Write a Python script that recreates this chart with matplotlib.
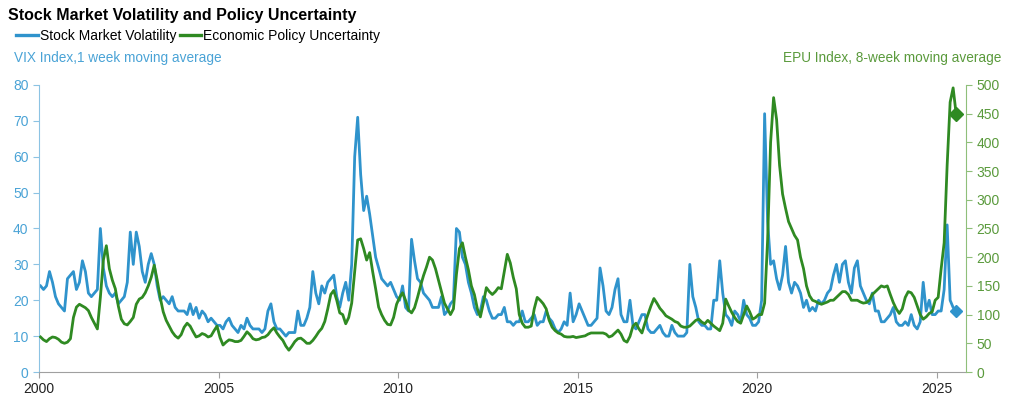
import numpy as np
import matplotlib
matplotlib.use("Agg")
import matplotlib.pyplot as plt
from matplotlib.lines import Line2D

plt.rcParams['font.family'] = ['Liberation Sans', 'DejaVu Sans']

# monthly readings, Jan 2000 .. Jul 2025
vix = [
    24, 23, 24, 28, 25, 21, 19, 18, 17, 26, 27, 28,   # 2000
    23, 25, 31, 28, 22, 21, 22, 23, 40, 29, 24, 22,   # 2001
    21, 22, 19, 20, 21, 25, 39, 30, 39, 35, 28, 25,   # 2002
    30, 33, 30, 24, 20, 21, 20, 19, 21, 18, 17, 17,   # 2003
    17, 16, 19, 16, 18, 15, 17, 16, 14, 15, 14, 13,   # 2004
    13, 12, 14, 15, 13, 12, 11, 13, 12, 15, 13, 12,   # 2005
    12, 12, 11, 12, 17, 19, 14, 12, 12, 11, 10, 11,   # 2006
    11, 11, 17, 13, 13, 15, 18, 28, 22, 19, 24, 22,   # 2007
    25, 26, 27, 21, 18, 22, 25, 20, 30, 60, 71, 55,   # 2008
    45, 49, 44, 38, 32, 29, 26, 25, 24, 25, 23, 21,   # 2009
    20, 24, 18, 17, 37, 31, 26, 25, 22, 21, 20, 18,   # 2010
    18, 18, 21, 16, 17, 19, 20, 40, 39, 32, 30, 25,   # 2011
    22, 18, 16, 17, 21, 20, 17, 15, 15, 16, 16, 18,   # 2012
    14, 14, 13, 14, 14, 17, 14, 14, 15, 16, 13, 14,   # 2013
    14, 17, 15, 14, 12, 11, 12, 14, 13, 22, 14, 16,   # 2014
    19, 17, 15, 13, 13, 14, 15, 29, 24, 17, 16, 18,   # 2015
    23, 26, 16, 14, 14, 20, 13, 12, 14, 16, 16, 12,   # 2016
    11, 11, 12, 13, 11, 10, 10, 13, 11, 10, 10, 10,   # 2017
    11, 30, 21, 18, 14, 13, 13, 12, 12, 20, 20, 31,   # 2018
    22, 16, 15, 13, 17, 16, 14, 20, 16, 15, 13, 13,   # 2019
    14, 20, 72, 42, 30, 31, 26, 23, 27, 35, 25, 22,   # 2020
    25, 24, 22, 18, 20, 17, 18, 17, 20, 19, 20, 22,   # 2021
    23, 27, 30, 25, 30, 31, 25, 22, 29, 31, 24, 22,   # 2022
    20, 19, 22, 17, 17, 14, 14, 15, 16, 18, 14, 13,   # 2023
    13, 14, 13, 16, 13, 12, 14, 25, 17, 20, 16, 16,   # 2024
    17, 17, 23, 41, 20, 18, 17,                       # 2025
]

epu = [
    61, 56, 53, 58, 61, 60, 57, 52, 50, 52, 58, 95,             # 2000
    113, 118, 115, 112, 107, 95, 85, 75, 130, 195, 220, 180,    # 2001
    160, 145, 115, 92, 84, 82, 88, 95, 118, 127, 130, 138,      # 2002
    150, 165, 186, 160, 130, 105, 90, 80, 70, 63, 59, 65,       # 2003
    78, 85, 80, 70, 61, 63, 67, 65, 61, 63, 72, 80,             # 2004
    60, 47, 52, 56, 55, 53, 53, 55, 62, 70, 65, 58,             # 2005
    56, 57, 60, 61, 65, 72, 77, 68, 61, 55, 45, 38,             # 2006
    45, 53, 58, 59, 55, 50, 50, 55, 62, 70, 76, 88,             # 2007
    110, 135, 142, 125, 103, 100, 84, 95, 120, 175, 230, 232,   # 2008
    215, 195, 208, 175, 145, 113, 100, 90, 83, 82, 95, 118,     # 2009
    130, 138, 125, 108, 103, 112, 130, 150, 168, 183, 200, 195, # 2010
    180, 160, 140, 120, 110, 100, 110, 170, 215, 225, 200, 178, # 2011
    150, 135, 110, 96, 120, 147, 140, 135, 140, 147, 145, 175,  # 2012
    205, 190, 165, 145, 100, 85, 78, 78, 80, 110, 130, 125,     # 2013
    119, 110, 90, 78, 72, 68, 66, 62, 61, 61, 62, 60,           # 2014
    61, 62, 63, 66, 68, 68, 68, 68, 68, 66, 61, 63,             # 2015
    68, 73, 66, 55, 52, 62, 80, 85, 75, 68, 85, 100,            # 2016
    115, 128, 120, 111, 105, 98, 95, 92, 88, 86, 80, 78,        # 2017
    78, 80, 85, 90, 92, 87, 84, 90, 85, 80, 76, 72,             # 2018
    85, 127, 115, 104, 95, 88, 85, 100, 115, 105, 92, 95,       # 2019
    100, 100, 120, 230, 400, 478, 440, 360, 310, 285, 262, 250, # 2020
    238, 230, 200, 180, 150, 133, 125, 123, 120, 118, 120, 122, # 2021
    125, 125, 130, 135, 140, 140, 135, 125, 125, 125, 122, 120, # 2022
    121, 125, 135, 140, 145, 150, 148, 150, 135, 121, 110, 102, # 2023
    110, 130, 140, 138, 130, 115, 100, 92, 96, 102, 105, 125,   # 2024
    130, 180, 225, 360, 470, 495, 450,                          # 2025
]

dates = 2000 + (np.arange(len(vix)) + 0.5) / 12

blue = "#2f93cc"
green = "#2f8a22"
blue_txt = "#4aa3d6"
green_txt = "#5a9a3c"

fig = plt.figure(figsize=(10.11, 4.0), dpi=100)
ax = fig.add_axes([0.0386, 0.07, 0.917, 0.7175])
ax2 = ax.twinx()

ax.plot(dates, vix, color=blue, lw=2.0, zorder=2)
ax.plot(dates[-1], vix[-1], marker="D", color=blue, ms=6)
ax2.plot(dates, epu, color=green, lw=2.0, zorder=3)
ax2.plot(dates[-1], epu[-1], marker="D", color=green, ms=7)

ax.set_xlim(2000, 2025.82)
ax.set_ylim(0, 80)
ax2.set_ylim(0, 500)
ax.set_xticks([2000, 2005, 2010, 2015, 2020, 2025])
ax.set_yticks(range(0, 81, 10))
ax2.set_yticks(range(0, 501, 50))

# only left (VIX), right (EPU) and bottom spines are shown
ax.spines["top"].set_visible(False)
ax.spines["right"].set_visible(False)
ax.spines["left"].set_color("#8cc3e3")
ax.spines["bottom"].set_color("#a0a0a0")
ax2.spines["top"].set_visible(False)
ax2.spines["left"].set_visible(False)
ax2.spines["bottom"].set_visible(False)
ax2.spines["right"].set_color("#8fbf7a")

ax.tick_params(axis="y", colors="#8cc3e3", labelcolor=blue_txt, labelsize=10, length=4)
ax.tick_params(axis="x", colors="#a0a0a0", labelcolor="#222222", labelsize=10, length=4)
ax2.tick_params(axis="y", colors="#8fbf7a", labelcolor=green_txt, labelsize=10, length=4)

fig.text(0.008, 0.962, "Stock Market Volatility and Policy Uncertainty",
         fontsize=11.5, fontweight="bold", ha="left", va="center")
fig.text(0.014, 0.855, "VIX Index,1 week moving average",
         fontsize=9.8, color=blue_txt, ha="left", va="center")
fig.text(0.99, 0.855, "EPU Index, 8-week moving average",
         fontsize=9.8, color=green_txt, ha="right", va="center")

handles = [Line2D([], [], color=blue, lw=2.4), Line2D([], [], color=green, lw=2.4)]
fig.legend(handles, ["Stock Market Volatility", "Economic Policy Uncertainty"],
           loc="center left", bbox_to_anchor=(0.016, 0.91), ncol=2, frameon=False,
           fontsize=10, handlelength=1.55, handletextpad=0.15, columnspacing=0.25,
           borderaxespad=0, borderpad=0)

fig.savefig("out.png", dpi=100)
